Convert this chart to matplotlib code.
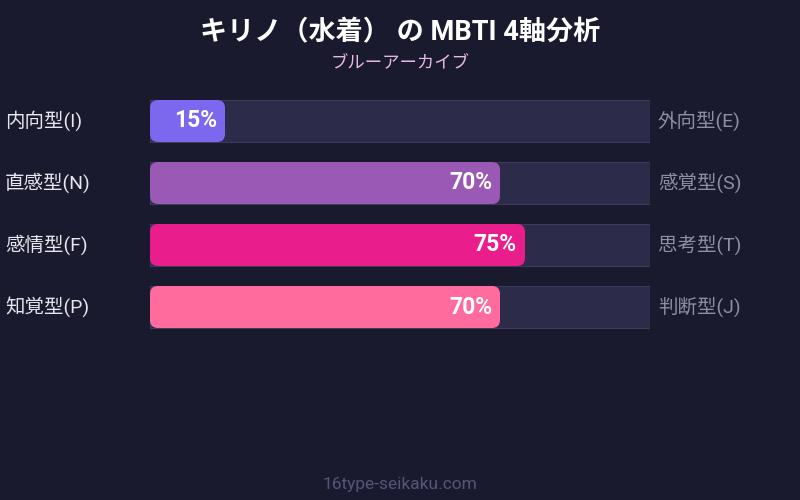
import matplotlib
matplotlib.use('Agg')
import matplotlib.pyplot as plt
from matplotlib.patches import FancyBboxPatch
from matplotlib.transforms import blended_transform_factory

# ラテン文字は Roboto、日本語は Noto Sans CJK JP にフォールバック
plt.rcParams['font.family'] = ['Roboto', 'Noto Sans CJK JP', 'DejaVu Sans']

# データ
left_labels = ['内向型(I)', '直感型(N)', '感情型(F)', '知覚型(P)']
right_labels = ['外向型(E)', '感覚型(S)', '思考型(T)', '判断型(J)']
values = [15, 70, 75, 70]
colors = ['#7b68ee', '#9b59b6', '#e91e8c', '#ff6b9d']

title = 'キリノ（水着） の MBTI 4軸分析'
subtitle = 'ブルーアーカイブ'
footer = '16type-seikaku.com'

BG = '#1a1a2e'
TRACK = '#2d2b4a'
TRACK_EDGE = '#3d3b5c'

fig = plt.figure(figsize=(8, 5), dpi=100, facecolor=BG)
# バー領域: x 150-650px, 行間隔 62px
ax = fig.add_axes([150 / 800, (500 - 338) / 500, 500 / 800, 248 / 500])
ax.set_facecolor(BG)
ax.set_xlim(0, 100)
ax.set_ylim(len(values) - 0.5, -0.5)
ax.axis('off')

bar_h = 42 / 62
rows = range(len(values))

# 背景トラック
ax.barh(rows, [100] * len(values), height=bar_h, color=TRACK,
        edgecolor=TRACK_EDGE, linewidth=0.8)

# 角丸の値バー
for i, (v, c) in enumerate(zip(values, colors)):
    box = FancyBboxPatch((0, i - bar_h / 2), v, bar_h,
                         boxstyle='round,pad=0,rounding_size=1.6',
                         mutation_aspect=5 / 62,
                         facecolor=c, edgecolor='none', zorder=3)
    ax.add_patch(box)
    ax.text(v - 1.6, i, f'{v}%', ha='right', va='center', color='white',
            fontsize=16.5, fontweight='bold', zorder=4)

trans = blended_transform_factory(fig.transFigure, ax.transData)
for i in rows:
    ax.text(5 / 800, i, left_labels[i], transform=trans, ha='left',
            va='center', color='#e6e6ee', fontsize=14)
    ax.text(658 / 800, i, right_labels[i], transform=trans, ha='left',
            va='center', color='#8e8ea6', fontsize=14)

fig.text(0.5, 1 - 33 / 500, title, ha='center', va='center',
         color='white', fontsize=19.5, fontweight='bold')
fig.text(0.5, 1 - 63 / 500, subtitle, ha='center', va='center',
         color='#e8b8e8', fontsize=12.5)
fig.text(0.5, 1 - 484 / 500, footer, ha='center', va='center',
         color='#55557a', fontsize=12.5)

fig.savefig('out.png', dpi=100, facecolor=BG)
